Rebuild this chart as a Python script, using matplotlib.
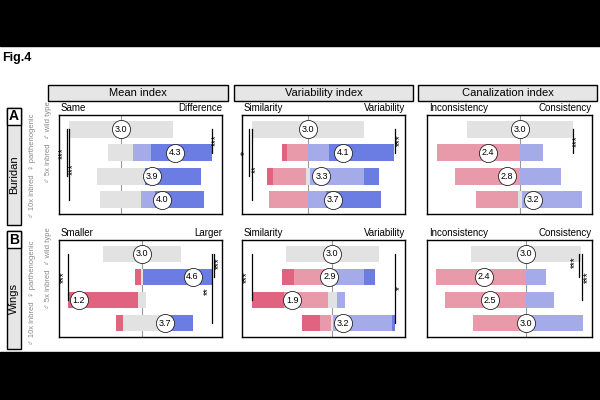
import numpy as np
import matplotlib.pyplot as plt
from matplotlib.patches import Rectangle

plt.rcParams['font.family'] = ['Liberation Sans', 'DejaVu Sans']

# share of flies (%) per score class, for each group (top to bottom)
# classes: strong neg, neg, neutral, pos, strong pos
buridan_mean = [[0, 0, 100, 0, 0], [0, 0, 24, 17, 59], [0, 0, 46, 0, 54], [0, 0, 39, 13, 48]]
buridan_var = [[0, 0, 100, 0, 0], [4, 19, 0, 19, 58], [6, 29, 4, 48, 13], [0, 35, 0, 16, 49]]
buridan_can = [[0, 0, 100, 0, 0], [0, 78, 0, 22, 0], [0, 61, 0, 39, 0], [0, 39, 4, 57, 0]]
wings_mean = [[0, 0, 100, 0, 0], [8, 0, 3, 0, 89], [89, 0, 11, 0, 0], [9, 0, 50, 0, 41]]
wings_var = [[0, 0, 100, 0, 0], [12, 39, 5, 32, 12], [34, 47, 10, 9, 0], [19, 12, 2, 63, 4]]
wings_can = [[0, 0, 100, 0, 0], [0, 82, 0, 18, 0], [0, 74, 0, 26, 0], [0, 48, 0, 52, 0]]

# mean scores shown in the circles, and where the circles sit (%)
buridan_mean_score = [3.0, 4.3, 3.9, 4.0]
buridan_var_score = [3.0, 4.1, 3.3, 3.7]
buridan_can_score = [3.0, 2.4, 2.8, 3.2]
wings_mean_score = [3.0, 4.6, 1.2, 3.7]
wings_var_score = [3.0, 2.9, 1.9, 3.2]
wings_can_score = [3.0, 2.4, 2.5, 3.0]

buridan_mean_pos = [0, 52, 30, 40]
buridan_var_pos = [0, 31, 12, 22]
buridan_can_pos = [0, -30, -12, 12]
wings_mean_pos = [0, 65, -81, 29]
wings_var_pos = [0, -3, -43, 12]
wings_can_pos = [0, -38, -33, 0]

# significance: (line x, first bar, last bar, stars, star x, star y)
buridan_mean_sig = [(-52, 0, 2, '***', -56, 1.0), (-50, 0, 3, '***', -46, 1.7), (88, 0, 1, '***', 92, 0.45)]
buridan_var_sig = [(-53, 0, 2, '*', -56.5, 1.0), (-50, 0, 3, '**', -46.5, 1.7), (78, 0, 1, '***', 82, 0.45)]
buridan_can_sig = [(50, 0, 1, '***', 54, 0.5)]
wings_mean_sig = [(-95, 0, 2, '***', -100.5, 1.0), (93, 0, 1, '***', 98.5, 0.4), (90, 0, 3, '**', 84.5, 1.6)]
wings_var_sig = [(-86, 0, 2, '***', -91.5, 1.0), (68, 0, 3, '*', 72.5, 1.5)]
wings_can_sig = [(49, 0, 1, '***', 45, 0.35), (51.5, 0, 2, '***', 56.5, 1.0)]

col_titles = ['Mean index', 'Variability index', 'Canalization index']
end_labels = [[('Same', 'Difference'), ('Similarity', 'Variability'), ('Inconsistency', 'Consistency')],
              [('Smaller', 'Larger'), ('Similarity', 'Variability'), ('Inconsistency', 'Consistency')]]
row_names = ['Buridan', 'Wings']
row_letters = ['A', 'B']

colors = ['#e0637f', '#e899aa', '#e2e2e2', '#a4abe8', '#6b7de2']

panels = [[(buridan_mean, buridan_mean_score, buridan_mean_pos, buridan_mean_sig),
           (buridan_var, buridan_var_score, buridan_var_pos, buridan_var_sig),
           (buridan_can, buridan_can_score, buridan_can_pos, buridan_can_sig)],
          [(wings_mean, wings_mean_score, wings_mean_pos, wings_mean_sig),
           (wings_var, wings_var_score, wings_var_pos, wings_var_sig),
           (wings_can, wings_can_score, wings_can_pos, wings_can_sig)]]

xlims = [[(-59.4, 97.4), (-58.9, 86.6), (-87.3, 68.0)],
         [(-106.7, 102.8), (-97.0, 78.3), (-90.4, 60.5)]]

W, H = 600, 400
fig = plt.figure(figsize=(6, 4), dpi=100)


def fbox(x0, y0, x1, y1):
    # pixel box (from top-left) to figure fraction rect
    return [x0 / W, 1 - y1 / H, (x1 - x0) / W, (y1 - y0) / H]


def fx(x):
    return x / W


def fy(y):
    return 1 - y / H


# black strips top and bottom
fig.add_artist(Rectangle((0, fy(46)), 1, 46 / H, transform=fig.transFigure, color='black', zorder=0))
fig.add_artist(Rectangle((0, 0), 1, 48 / H, transform=fig.transFigure, color='black', zorder=0))
fig.text(fx(2), fy(58), 'Fig.4', fontsize=9, fontweight='bold', va='center', ha='left')

col_x = [(59, 222), (242, 405), (427, 592)]
head_x = [(48, 228), (234, 413), (418, 597)]
row_y = [(115, 214), (240, 337)]

for j, (hx0, hx1) in enumerate(head_x):
    fig.add_artist(Rectangle((fx(hx0), fy(101)), (hx1 - hx0) / W, 16 / H, transform=fig.transFigure,
                             facecolor='#e6e6e6', edgecolor='black', linewidth=1))
    fig.text(fx((hx0 + hx1) / 2), fy(93.5), col_titles[j], fontsize=8, ha='center', va='center')

# left row boxes
for i, (by0, by1) in enumerate([(108, 225), (231, 349)]):
    fig.add_artist(Rectangle((fx(7), fy(by1)), 14 / W, (by1 - by0) / H, transform=fig.transFigure,
                             facecolor='#e6e6e6', edgecolor='black', linewidth=1))
    fig.add_artist(Rectangle((fx(7), fy(by0 + 17)), 14 / W, 17 / H, transform=fig.transFigure,
                             facecolor='white', edgecolor='black', linewidth=1))
    fig.text(fx(14), fy(by0 + 8.5), row_letters[i], fontsize=10, fontweight='bold', ha='center', va='center')
    fig.text(fx(14), fy((by0 + 17 + by1) / 2), row_names[i], fontsize=8, rotation=90, ha='center', va='center')

# group labels
for yc1, yc2 in [(166, 142), (293, 268)]:
    fig.text(fx(33), fy(yc1), '\u2642 10x inbred  \u2640 parthenogenic', fontsize=5.5, color='#888888',
             rotation=90, ha='center', va='center')
    fig.text(fx(48), fy(yc2), '\u2642 5x inbred  \u2642 wild type', fontsize=5.5, color='#888888',
             rotation=90, ha='center', va='center')

ys = np.arange(4)
for i in range(2):
    for j in range(3):
        shares, scores, pos, sigs = panels[i][j]
        x0, x1 = col_x[j]
        y0, y1 = row_y[i]
        ax = fig.add_axes(fbox(x0, y0, x1, y1))
        shares = np.array(shares, float)
        left = -(shares[:, 0] + shares[:, 1] + shares[:, 2] / 2)
        for k in range(5):
            ax.barh(ys, shares[:, k], left=left, height=0.72, color=colors[k], linewidth=0, zorder=2)
            left = left + shares[:, k]
        ax.axvline(0, color='#999999', linewidth=0.8, zorder=1)
        ax.scatter(pos, ys, s=170, facecolor='white', edgecolor='#222222', linewidth=0.6, zorder=4)
        for p, y, v in zip(pos, ys, scores):
            ax.text(p, y, f'{v:.1f}', ha='center', va='center', fontsize=6.5, zorder=5)
        for lx, b0, b1, st, tx, ty in sigs:
            ax.plot([lx, lx], [b0, b1], color='black', linewidth=0.9, zorder=3)
            ax.text(tx, ty, st, rotation=90, ha='center', va='center', fontsize=7, zorder=5)
        ax.set_xlim(*xlims[i][j])
        ax.set_ylim(3.6, -0.6)
        ax.set_xticks([])
        ax.set_yticks([])
        for s in ax.spines.values():
            s.set_linewidth(1)
        lab_l, lab_r = end_labels[i][j]
        fig.text(fx(x0 + 2), fy(y0 - 7), lab_l, fontsize=7, ha='left', va='center')
        fig.text(fx(x1), fy(y0 - 7), lab_r, fontsize=7, ha='right', va='center')

fig.savefig('out.png', dpi=100, facecolor='white')
